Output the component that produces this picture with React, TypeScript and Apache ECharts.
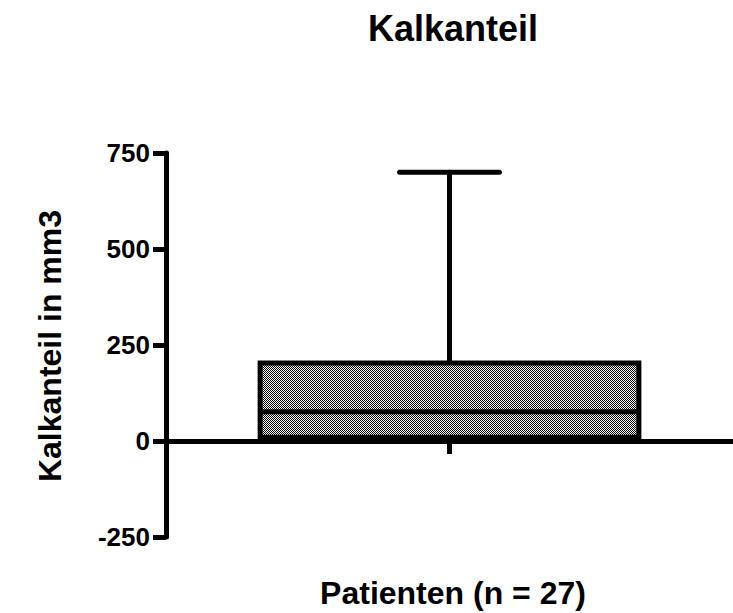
import React, { useEffect, useRef } from "react";
import * as echarts from "echarts";

// ---- data ----
const titleText = "Kalkanteil";
const yAxisName = "Kalkanteil in mm3";
const xAxisName = "Patienten (n = 27)";
const categories = ["Patienten"];
// [min, q1, median, q3, max]
const boxMin = [0];
const boxQ1 = [10];
const boxMedian = [76];
const boxQ3 = [203];
const boxMax = [700];
const yMin = -250;
const yMax = 750;
const yInterval = 250;

const FONT = '"Liberation Sans", Arial, Helvetica, sans-serif';

function makePattern(): HTMLCanvasElement {
  const c = document.createElement("canvas");
  c.width = 2;
  c.height = 2;
  const ctx = c.getContext("2d")!;
  ctx.fillStyle = "#ffffff";
  ctx.fillRect(0, 0, 2, 2);
  ctx.fillStyle = "#000000";
  ctx.fillRect(0, 0, 1, 1);
  ctx.fillRect(1, 1, 1, 1);
  return c;
}

export default function App() {
  const ref = useRef<HTMLDivElement>(null);
  useEffect(() => {
    if (!ref.current) return;
    const chart = echarts.init(ref.current, null, { renderer: "svg" });
    const pattern = makePattern();
    const data = categories.map((_, i) => [i, boxMin[i], boxQ1[i], boxMedian[i], boxQ3[i], boxMax[i]]);
    chart.setOption({
      animation: false,
      backgroundColor: "#ffffff",
      grid: { left: 166, right: -8, top: 153, bottom: 76, containLabel: false },
      xAxis: {
        type: "category",
        data: categories,
        axisLine: { onZero: true, lineStyle: { color: "#000", width: 5 } },
        axisTick: { show: true, alignWithLabel: true, length: 13, lineStyle: { color: "#000", width: 5 } },
        axisLabel: { show: false },
        splitLine: { show: false },
      },
      yAxis: {
        type: "value",
        min: yMin,
        max: yMax,
        interval: yInterval,
        axisLine: { show: true, lineStyle: { color: "#000", width: 5 } },
        axisTick: { show: true, length: 13, lineStyle: { color: "#000", width: 5 } },
        axisLabel: { color: "#000", fontSize: 26, fontWeight: "bold", fontFamily: FONT, margin: 16 },
        splitLine: { show: false },
      },
      series: [
        {
          type: "custom",
          data,
          clip: false,
          renderItem: (params: any, api: any) => {
            const xi = api.value(0);
            const cx = api.coord([xi, 0])[0];
            const band = api.size([1, 0])[0];
            const halfBox = band * 0.334;
            const halfCap = band * 0.088;
            const yMinP = api.coord([xi, api.value(1)])[1];
            const yQ1 = api.coord([xi, api.value(2)])[1];
            const yMed = api.coord([xi, api.value(3)])[1];
            const yQ3 = api.coord([xi, api.value(4)])[1];
            const yMaxP = api.coord([xi, api.value(5)])[1];
            const lineStyle = { stroke: "#000", lineWidth: 5, lineCap: "round" };
            return {
              type: "group",
              children: [
                { type: "line", shape: { x1: cx, y1: yQ3, x2: cx, y2: yMaxP }, style: lineStyle },
                { type: "line", shape: { x1: cx - halfCap, y1: yMaxP, x2: cx + halfCap, y2: yMaxP }, style: lineStyle },
                { type: "line", shape: { x1: cx, y1: yQ1, x2: cx, y2: yMinP }, style: lineStyle },
                {
                  type: "rect",
                  shape: { x: cx - halfBox, y: yQ3, width: halfBox * 2, height: yQ1 - yQ3 },
                  style: { fill: { image: pattern, repeat: "repeat" }, stroke: "#000", lineWidth: 5 },
                },
                { type: "line", shape: { x1: cx - halfBox, y1: yMed, x2: cx + halfBox, y2: yMed }, style: { stroke: "#000", lineWidth: 5 } },
              ],
            };
          },
        },
      ],
      graphic: [
        {
          type: "text",
          x: 453,
          y: 28,
          style: { text: titleText, fill: "#000", font: `bold 36px ${FONT}`, align: "center", verticalAlign: "middle", textAlign: "center", textVerticalAlign: "middle" },
        },
        {
          type: "text",
          x: 50,
          y: 346,
          rotation: Math.PI / 2,
          style: { text: yAxisName, fill: "#000", font: `bold 32px ${FONT}`, align: "center", verticalAlign: "middle", textAlign: "center", textVerticalAlign: "middle" },
        },
        {
          type: "text",
          x: 453,
          y: 593,
          style: { text: xAxisName, fill: "#000", font: `bold 32px ${FONT}`, align: "center", verticalAlign: "middle", textAlign: "center", textVerticalAlign: "middle" },
        },
      ],
    });
    return () => chart.dispose();
  }, []);
  return <div ref={ref} style={{ width: 733, height: 613, position: "absolute", left: 0, top: 0 }} />;
}
